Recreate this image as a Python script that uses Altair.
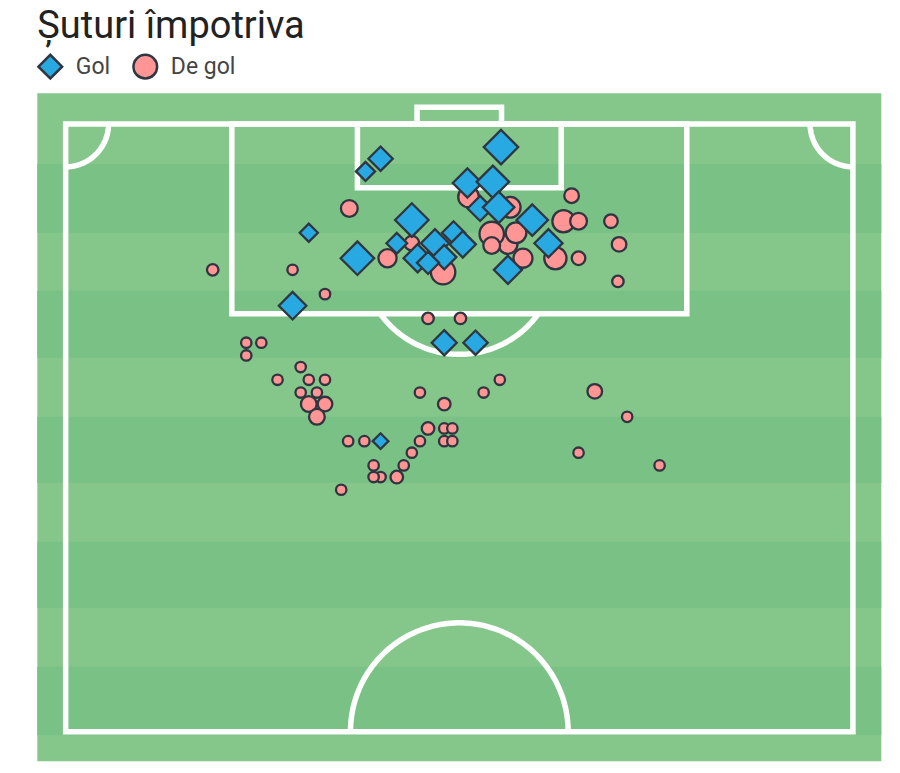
import altair as alt
import pandas as pd
import numpy as np

TITLE = "Șuturi împotriva"
OUTCOMES = ["Gol", "De gol"]
COLORS = ["#29A9E1", "#FF9595"]
SHAPES = ["diamond", "circle"]

# Goals (x across pitch in m, y = distance from goal line in m, xg ~ marker size)
GOAL_X = [37.6, 27.2, 25.9, 34.7, 36.9, 35.8, 37.4, 29.9, 40.3, 28.6, 25.2, 21.0,
          33.5, 31.9, 34.3, 30.4, 32.7, 41.7, 38.2, 19.6, 32.7, 35.4, 27.2, 31.3]
GOAL_Y = [2.0, 3.0, 4.1, 5.1, 5.0, 7.3, 7.2, 8.3, 8.3, 10.3, 11.6, 9.4,
          9.4, 10.3, 10.4, 11.6, 11.5, 10.3, 12.6, 15.7, 18.9, 18.9, 27.4, 12.0]
GOAL_XG = [0.36, 0.18, 0.11, 0.26, 0.32, 0.19, 0.30, 0.34, 0.30, 0.13, 0.34, 0.10,
           0.16, 0.24, 0.21, 0.24, 0.18, 0.24, 0.24, 0.23, 0.19, 0.18, 0.075, 0.15]

# Shots that were not goals
MISS_X = [43.7, 43.0, 44.3, 47.1, 47.8, 44.3, 47.7, 42.3, 39.5, 38.2, 36.8, 38.9,
          36.8, 34.8, 38.4, 32.6, 27.8, 29.9, 24.5, 19.6, 22.4, 12.7, 31.3, 34.1,
          15.6, 16.9, 15.6, 20.3, 18.3, 21.0, 22.4, 20.3, 21.7, 21.0, 22.4, 21.7,
          30.6, 32.7, 36.1, 37.5, 31.3, 32.7, 33.4, 32.7, 33.4, 30.6, 29.9, 29.2,
          28.6, 27.2, 26.6, 26.6, 24.4, 25.8, 23.8, 45.7, 48.5, 44.3, 51.3]
MISS_Y = [6.2, 8.4, 8.4, 8.4, 10.4, 11.6, 13.6, 11.6, 11.6, 10.4, 9.5, 9.4,
          10.5, 6.3, 7.2, 12.8, 11.6, 10.3, 7.3, 12.6, 14.7, 12.6, 16.8, 16.8,
          18.9, 18.9, 20.0, 21.0, 22.1, 22.1, 22.1, 23.2, 23.2, 24.2, 24.2, 25.3,
          23.2, 24.2, 23.2, 22.1, 26.3, 26.3, 26.3, 27.4, 27.4, 27.4, 28.4, 29.5,
          30.5, 30.5, 30.5, 29.5, 27.4, 27.4, 31.6, 23.1, 25.3, 28.4, 29.5]
MISS_XG = [0.065, 0.15, 0.085, 0.056, 0.065, 0.056, 0.04, 0.15, 0.11, 0.11, 0.18, 0.13,
           0.085, 0.13, 0.13, 0.18, 0.10, 0.065, 0.085, 0.033, 0.033, 0.04, 0.04, 0.04,
           0.033, 0.033, 0.033, 0.033, 0.033, 0.033, 0.033, 0.033, 0.033, 0.075, 0.065, 0.075,
           0.033, 0.048, 0.033, 0.033, 0.048, 0.033, 0.033, 0.033, 0.033, 0.033, 0.033, 0.033,
           0.048, 0.033, 0.033, 0.033, 0.033, 0.033, 0.033, 0.065, 0.033, 0.033, 0.033]

# Pitch geometry (metres, as drawn)
PITCH_W = 68.0
HALF_L = 52.5
BOX_W, BOX_D = 39.3, 16.4
SIX_W, SIX_D = 17.6, 5.5
GOAL_W, GOAL_D = 7.3, 1.45
SPOT, ARC_R = 11.5, 8.4
CIRCLE_R = 9.4
CORNER_R = 3.7
MARGIN_X, MARGIN_TOP, MARGIN_BOTTOM = 2.45, 2.65, 2.56

STRIPE_EDGES = [3.45, 9.4, 14.4, 20.2, 25.3, 31.0, 36.1, 41.8, 46.9, 52.8]
LIGHT, DARK = "#85C68B", "#7AC186"
LINE = "white"
LW = 5.5

XMIN, XMAX = -MARGIN_X, PITCH_W + MARGIN_X
YMIN, YMAX = -MARGIN_TOP, HALF_L + MARGIN_BOTTOM

xs = alt.Scale(domain=[XMIN, XMAX], nice=False, zero=False)
ys = alt.Scale(domain=[YMIN, YMAX], nice=False, zero=False, reverse=True)

def X(f="x"):
    return alt.X(f"{f}:Q", scale=xs, axis=None)

def Y(f="y"):
    return alt.Y(f"{f}:Q", scale=ys, axis=None)

# background
bg = pd.DataFrame({"x": [XMIN], "x2": [XMAX], "y": [YMIN], "y2": [YMAX]})
bg_layer = alt.Chart(bg).mark_rect(fill=LIGHT).encode(
    x=X(), x2="x2:Q", y=Y(), y2="y2:Q")

dark_rows = []
for i in range(0, len(STRIPE_EDGES) - 1, 2):
    dark_rows.append({"x": XMIN, "x2": XMAX, "y": STRIPE_EDGES[i], "y2": STRIPE_EDGES[i + 1]})
stripes = alt.Chart(pd.DataFrame(dark_rows)).mark_rect(fill=DARK).encode(
    x=X(), x2="x2:Q", y=Y(), y2="y2:Q")

cx = PITCH_W / 2
rects = pd.DataFrame([
    {"x": 0, "x2": PITCH_W, "y": 0, "y2": HALF_L},
    {"x": cx - BOX_W / 2, "x2": cx + BOX_W / 2, "y": 0, "y2": BOX_D},
    {"x": cx - SIX_W / 2, "x2": cx + SIX_W / 2, "y": 0, "y2": SIX_D},
    {"x": cx - GOAL_W / 2, "x2": cx + GOAL_W / 2, "y": -GOAL_D, "y2": 0},
])
rect_layer = alt.Chart(rects).mark_rect(
    fillOpacity=0, stroke=LINE, strokeWidth=LW).encode(
    x=X(), x2="x2:Q", y=Y(), y2="y2:Q")

arc_rows = []
def add_arc(name, pts):
    for i, (ax, ay) in enumerate(pts):
        arc_rows.append({"arc": name, "i": i, "x": ax, "y": ay})

t = np.linspace(0, np.pi / 2, 40)
add_arc("cl", zip(CORNER_R * np.cos(t), CORNER_R * np.sin(t)))
add_arc("cr", zip(PITCH_W - CORNER_R * np.cos(t), CORNER_R * np.sin(t)))
a0 = np.arcsin((BOX_D - SPOT) / ARC_R)
t = np.linspace(a0, np.pi - a0, 60)
add_arc("pen", zip(cx + ARC_R * np.cos(t), SPOT + ARC_R * np.sin(t)))
t = np.linspace(0, np.pi, 100)
add_arc("centre", zip(cx + CIRCLE_R * np.cos(t), HALF_L - CIRCLE_R * np.sin(t)))
arcs = alt.Chart(pd.DataFrame(arc_rows)).mark_line(
    stroke=LINE, strokeWidth=LW).encode(
    x=X(), y=Y(), detail="arc:N", order="i:Q")

shots = pd.DataFrame({
    "x": MISS_X + GOAL_X,
    "y": MISS_Y + GOAL_Y,
    "xg": MISS_XG + GOAL_XG,
    "rezultat": ["De gol"] * len(MISS_X) + ["Gol"] * len(GOAL_X),
})

leg = alt.Legend(
    orient="none", legendX=-0.5, legendY=-40.5, direction="horizontal", title=None,
    symbolSize=560, symbolStrokeWidth=2.5, symbolStrokeColor="#2F3640",
    labelFontSize=23, labelFont="Roboto", labelColor="#444444",
    labelOffset=12, columnPadding=17, padding=0,
)

points = alt.Chart(shots).mark_point(
    filled=True, opacity=1, stroke="#2F3640", strokeWidth=2.3).encode(
    x=X(), y=Y(),
    color=alt.Color("rezultat:N", scale=alt.Scale(domain=OUTCOMES, range=COLORS), legend=leg),
    shape=alt.Shape("rezultat:N", scale=alt.Scale(domain=OUTCOMES, range=SHAPES), legend=leg),
    size=alt.Size("xg:Q", scale=alt.Scale(type="linear", domain=[0, 1], range=[0, 3300], zero=True), legend=None),
)

chart = alt.layer(bg_layer, stripes, rect_layer, arcs, points).properties(
    width=844, height=668,
    title=alt.TitleParams(TITLE, anchor="start", frame="group", fontSize=38,
                          font="Roboto", fontWeight="normal", color="#222222",
                          baseline="alphabetic", offset=25, dy=48),
    autosize=alt.AutoSizeParams(type="none"),
    padding={"left": 29.3, "top": 85.3, "right": 10, "bottom": 8},
).configure_view(strokeWidth=0)

chart.save("out.html", embed_options={"renderer": "svg", "actions": False})
